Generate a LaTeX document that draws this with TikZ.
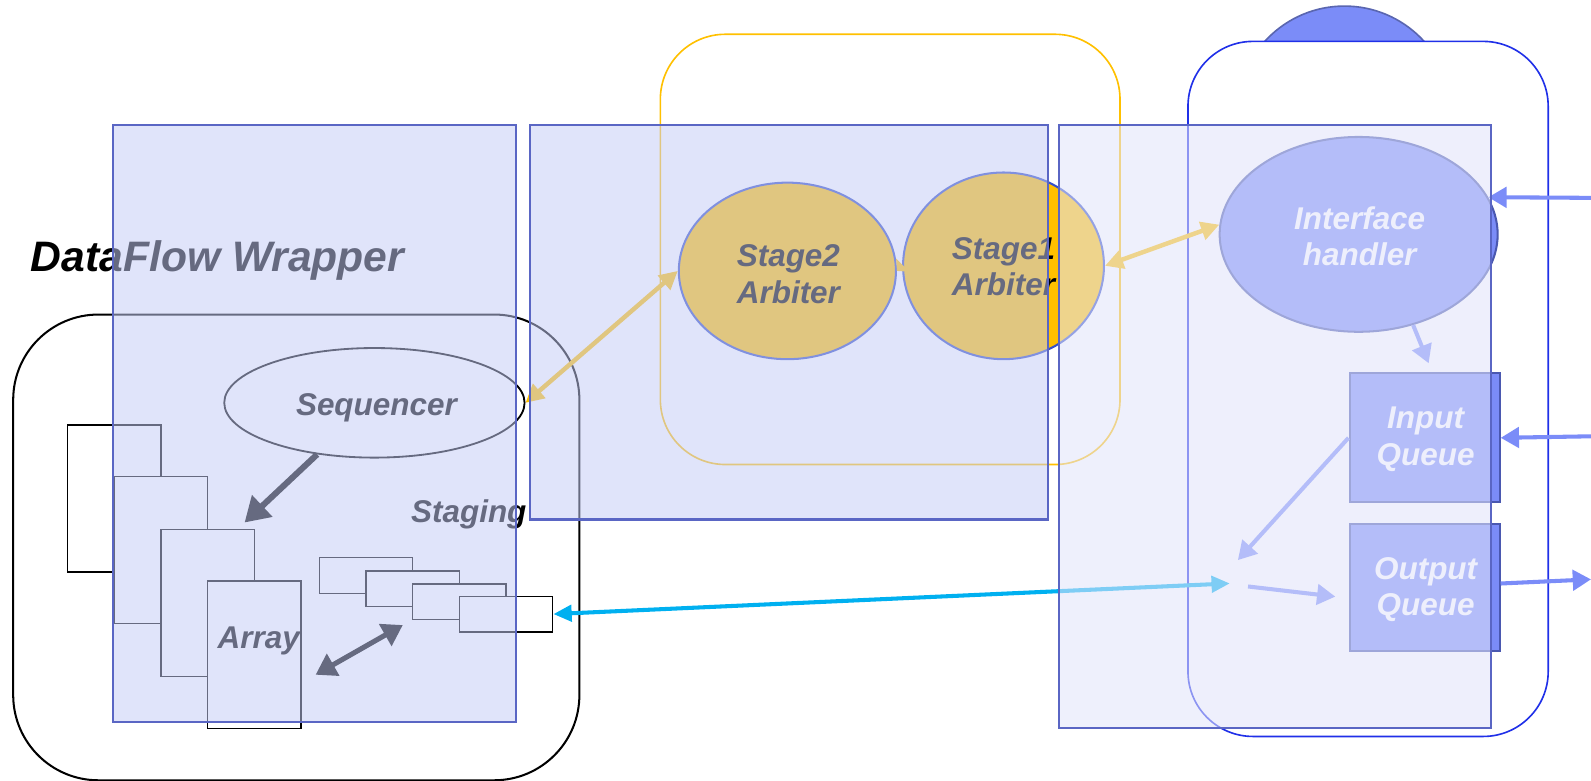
\documentclass[tikz,border=0pt]{standalone}
\usepackage{fontspec}
\setmainfont{Liberation Sans}
\usetikzlibrary{shapes.geometric,arrows.meta}
\definecolor{orng}{HTML}{FFC000}
\definecolor{ebdr}{HTML}{3650C8}
\definecolor{qblue}{HTML}{7B8CF8}
\definecolor{qedge}{HTML}{4A58B0}
\definecolor{ballg}{HTML}{5A66B0}
\definecolor{rblue}{HTML}{2030E8}
\definecolor{cyanarr}{HTML}{00B0F0}
\definecolor{ovl}{RGB}{196,204,246}
\definecolor{ovr}{RGB}{225,228,250}
\definecolor{ovedge}{HTML}{5A66C4}
\begin{document}
\begin{tikzpicture}[x=0.5pt,y=-0.5pt,
  lbl/.style={font=\fontsize{15.5}{18}\selectfont\bfseries\itshape, align=center, inner sep=0pt},
  box/.style={draw=black, line width=0.7pt, fill=white, minimum width=46pt, minimum height=72.5pt, anchor=north west, inner sep=0pt},
  slot/.style={draw=black, line width=0.7pt, fill=white, minimum width=46pt, minimum height=17.5pt, anchor=north west, inner sep=0pt},
  darr/.style={line width=3pt, -{Triangle[length=12pt,width=14pt]}},
  ddarr/.style={line width=2.5pt, {Triangle[length=10pt,width=12pt]}-{Triangle[length=10pt,width=12pt]}},
  garr/.style={draw=orng, line width=2.2pt, {Triangle[length=9pt,width=9pt]}-{Triangle[length=9pt,width=9pt]}},
  barr/.style={draw=qblue, line width=2pt, -{Triangle[length=9pt,width=10pt]}},
  carr/.style={draw=cyanarr, line width=2pt, {Triangle[length=9pt,width=8pt]}-{Triangle[length=9pt,width=8pt]}},
  overlay box/.style={draw=ovedge, line width=1pt, anchor=north west, inner sep=0pt}
]
\useasboundingbox (0,0) rectangle (1568,769);

% dataflow wrapper frame and its contents
\node[draw=black, line width=1pt, rounded corners=42pt, minimum width=279pt, minimum height=229.5pt, anchor=north west, inner sep=0pt] (wrap) at (12,309) {};
\node[anchor=base west, inner sep=0pt, font=\fontsize{21}{25}\selectfont\bfseries\itshape] (title) at (30,268) {DataFlow Wrapper};

\node[box] (r1) at (66,418) {};
\node[box] (r2) at (112,469) {};
\node[box] (r3) at (158,521) {};
\node[box] (r4) at (204,572) {};
\node[lbl] (arr) at (255,632) {Array};

\node[slot] (s1) at (314,549) {};
\node[slot] (s2) at (360,562) {};
\node[slot] (s3) at (406,575) {};
\node[slot] (s4) at (452,587) {};

\node[ellipse, draw=black, line width=0.9pt, fill=white, minimum width=148pt, minimum height=54pt, inner sep=0pt] (seq) at (369,397) {};
\node[lbl] (seqtxt) at (371,402) {Sequencer};
\node[lbl] (stg) at (462,507) {Staging};

\coordinate (seqtip) at (241,515);
\draw[darr] (seq.222) -- (seqtip);
\coordinate (xa) at (311,665);
\coordinate (xb) at (397,616);
\draw[ddarr] (xa) -- (xb);

% arbiter group
\node[draw=orng, line width=0.8pt, rounded corners=32pt, minimum width=226.5pt, minimum height=212pt, anchor=north west, inner sep=0pt] (yel) at (650,33) {};
\node[ellipse, draw=ebdr, line width=1pt, fill=orng, minimum width=107pt, minimum height=87pt, inner sep=0pt] (st2) at (776,267) {};
\node[lbl] (st2txt) at (777,270) {Stage2\\Arbiter};
\node[ellipse, draw=ebdr, line width=1pt, fill=orng, minimum width=99pt, minimum height=92pt, inner sep=0pt] (st1) at (989,262) {};
\node[lbl] (st1txt) at (989,263) {Stage1\\Arbiter};

% interface group
\node[circle, draw=ballg, line width=0.8pt, fill=qblue, minimum size=106pt, inner sep=0pt] (ball) at (1325,112) {};
\node[draw=rblue, line width=0.8pt, fill=white, rounded corners=32pt, minimum width=177.5pt, minimum height=342.5pt, anchor=north west, inner sep=0pt] (bluebox) at (1170,40) {};
\node[ellipse, draw=qedge, line width=1pt, fill=qblue, minimum width=137pt, minimum height=96pt, inner sep=0pt] (ih) at (1339,231) {};
\node[lbl, text=white] (ihtxt) at (1340,233) {Interface\\handler};
\node[draw=qedge, line width=1pt, fill=qblue, minimum width=74pt, minimum height=63.5pt, anchor=north west, inner sep=0pt] (iq) at (1329,367) {};
\node[lbl, text=white] (iqtxt) at (1405,433) {Input\\Queue};
\node[draw=qedge, line width=1pt, fill=qblue, minimum width=74pt, minimum height=63pt, anchor=north west, inner sep=0pt] (oq) at (1329,515) {};
\node[lbl, text=white] (oqtxt) at (1405,581) {Output\\Queue};

% connectors
\draw[garr] (seq.east) -- (st2.west);
\draw[draw=orng, line width=2.2pt, -{Triangle[length=4pt,width=9pt]}] (st1.west) -- (st2.east);
\draw[garr] (st1.east) -- (ih.176);

\coordinate (inA) at (1568,195);
\coordinate (inB) at (1568,430);
\coordinate (outB) at (1568,571);
\draw[barr] (inA) -- (ih.16);
\draw[barr] (inB) -- (iq.east);
\draw[barr] (oq.3) -- (outB);
\coordinate (iqtip) at (1408,358);
\draw[barr] (ih.-59) -- (iqtip);
\coordinate (mix) at (1220,552);
\draw[barr] (iq.west) -- (mix);
\coordinate (mixo) at (1230,578);
\coordinate (oqtip) at (1316,588);
\draw[barr] (mixo) -- (oqtip);
\coordinate (cy) at (1212,575);
\draw[carr] (s4.east) -- (cy);

% translucent panels
\node[overlay box, fill=ovl, fill opacity=0.52, minimum width=199pt, minimum height=294.5pt] (ovL) at (110,122) {};
\node[overlay box, fill=ovl, fill opacity=0.52, minimum width=255.5pt, minimum height=194.5pt] (ovM) at (521,122) {};
\node[overlay box, fill=ovr, fill opacity=0.56, minimum width=212.5pt, minimum height=297pt] (ovR) at (1043,122) {};
\end{tikzpicture}
\end{document}
